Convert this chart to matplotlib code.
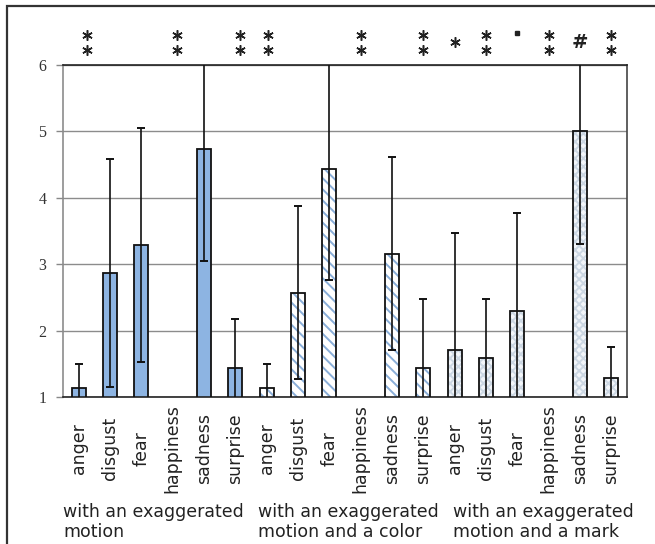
import numpy as np
import matplotlib
matplotlib.use("Agg")
import matplotlib.pyplot as plt
from matplotlib.patches import Rectangle
import matplotlib.transforms as mtransforms

# mean rating and standard deviation per emotion, one list per condition
emotions = ["anger", "disgust", "fear", "happiness", "sadness", "surprise"]
conditions = ["with an exaggerated\nmotion",
              "with an exaggerated\nmotion and a color",
              "with an exaggerated\nmotion and a mark"]

motion_mean = [1.14, 2.87, 3.29, np.nan, 4.73, 1.43]
motion_sd = [0.36, 1.72, 1.76, np.nan, 1.68, 0.74]
color_mean = [1.14, 2.57, 4.44, np.nan, 3.16, 1.43]
color_sd = [0.36, 1.30, 1.68, np.nan, 1.45, 1.05]
mark_mean = [1.71, 1.58, 2.30, np.nan, 5.01, 1.29]
mark_sd = [1.76, 0.90, 1.47, np.nan, 1.70, 0.46]

# significance marks above the plot (category position, symbol)
sig_x = [0.25, 3.13, 5.15, 6.04, 9, 11, 12, 13, 14, 15, 16, 17]
sig_mark = ["**", "**", "**", "**", "**", "**", "*", "**", ".", "**", "#", "**"]

# where each condition caption starts (category units)
cond_x = [-0.5, 5.72, 11.95]

means = [motion_mean, color_mean, mark_mean]
sds = [motion_sd, color_sd, mark_sd]
styles = [
    dict(facecolor="#8db4e2", hatchcolor="#8db4e2", hatch=None),
    dict(facecolor="white", hatchcolor="#8aaed8", hatch="\\\\\\"),
    dict(facecolor="#f3f6fa", hatchcolor="#ccd7e3", hatch="xxxx"),
]

plt.rcParams["hatch.linewidth"] = 1.4

fig = plt.figure(figsize=(6.55, 5.44), dpi=100)
ax = fig.add_axes([63 / 655, 1 - 397 / 544, 564 / 655, 332 / 544])

n = len(emotions)
width = 0.45
labels = []
for g in range(3):
    x = np.arange(n) + g * n
    m = np.array(means[g])
    s = np.array(sds[g])
    st = styles[g]
    ax.bar(x, m, width, facecolor=st["facecolor"], edgecolor=st["hatchcolor"],
           hatch=st["hatch"], linewidth=0, zorder=2)
    ax.bar(x, m, width, fill=False, edgecolor="#111111", linewidth=1.3, zorder=3)
    ax.errorbar(x, m, yerr=s, fmt="none", ecolor="#111111", elinewidth=1.2,
                capsize=3.2, capthick=1.4, zorder=4)
    labels += emotions

ax.set_xlim(-0.5, 3 * n - 0.5)
ax.set_ylim(1, 6)
ax.set_yticks(range(1, 7))
ax.yaxis.grid(True, color="#8c8c8c", linewidth=1.0, zorder=0)
ax.set_axisbelow(True)

ax.set_xticks(range(3 * n))
ax.set_xticklabels(labels, rotation=90, va="center", ha="center",
                   fontsize=12.5, color="#222222", family="DejaVu Sans")
ax.tick_params(axis="x", length=0, pad=37)
ax.tick_params(axis="y", length=5, width=1, color="#888888", pad=7,
               labelsize=11.5, labelcolor="#333333")
for lab in ax.get_yticklabels():
    lab.set_family("Liberation Serif")

ax.spines["left"].set_color("#8c8c8c")
ax.spines["top"].set_color("#222222")
ax.spines["right"].set_color("#444444")
ax.spines["bottom"].set_color("#222222")
for sp in ax.spines.values():
    sp.set_linewidth(1.2)

# condition captions under the emotion labels
trans = mtransforms.blended_transform_factory(ax.transData, ax.transAxes)
for cx, cond in zip(cond_x, conditions):
    ax.text(cx, -0.376, cond, transform=trans, ha="left", va="center",
            fontsize=12.5, color="#222222", linespacing=1.15, clip_on=False)

# significance symbols above the top of the axes
star = dict(linestyle="none", marker=(6, 2, 0), markersize=7.5,
            markeredgewidth=1.1, color="#222222", clip_on=False)
for sx, sm in zip(sig_x, sig_mark):
    if sm == "**":
        ax.plot([sx, sx], [1.09, 1.045], transform=trans, **star)
    elif sm == "*":
        ax.plot([sx], [1.07], transform=trans, **star)
    elif sm == ".":
        ax.plot([sx], [1.096], transform=trans, linestyle="none",
                marker="s", markersize=3.2, color="#222222", clip_on=False)
    else:
        ax.text(sx, 1.067, sm, transform=trans, ha="center", va="center",
                fontsize=14, fontweight="bold", color="#222222", clip_on=False)

# outer frame of the figure
fig.patches.append(Rectangle((7 / 655, -0.2), 1.2, 1.2 - 6 / 544,
                             transform=fig.transFigure, fill=False,
                             edgecolor="#333333", linewidth=1.6))

fig.savefig("out.png", dpi=100)
